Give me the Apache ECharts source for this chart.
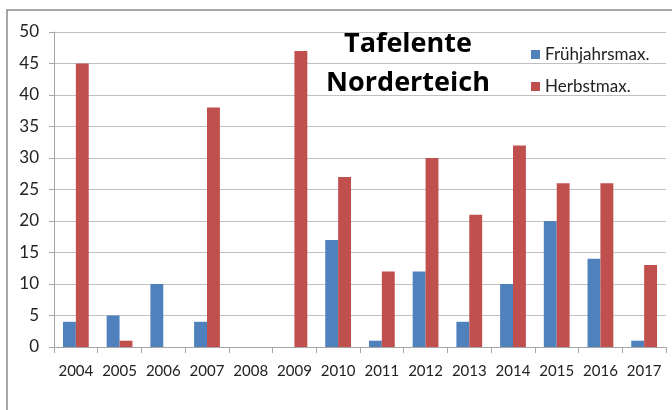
<!DOCTYPE html>
<html>
<head>
<meta charset="utf-8">
<script src="https://cdn.jsdelivr.net/npm/echarts@6/dist/echarts.min.js"></script>
<style>
  html, body { margin: 0; padding: 0; background: #fff; }
  #chart { width: 672px; height: 410px; }
</style>
</head>
<body>
<div id="chart"></div>
<script>
// Jahre und Maxima
const years = ["2004", "2005", "2006", "2007", "2008", "2009", "2010", "2011", "2012", "2013", "2014", "2015", "2016", "2017"];
const fruehjahr = [4, 5, 10, 4, 0, 0, 17, 1, 12, 4, 10, 20, 14, 1];
const herbst = [45, 1, 0, 38, 0, 47, 27, 12, 30, 21, 32, 26, 26, 13];

const font = "Lato, 'Open Sans', sans-serif";

const chart = echarts.init(document.getElementById("chart"));
chart.setOption({
  animation: false,
  textStyle: { fontFamily: font },
  graphic: [
    {
      // Rahmen
      type: "rect",
      shape: { x: 7, y: 10, width: 700, height: 500 },
      style: { fill: "none", stroke: "#8c8c8c", lineWidth: 1.5 },
      z: -1
    },
    {
      type: "text",
      x: 408, y: 25,
      style: {
        text: "Tafelente\nNorderteich",
        align: "center",
        verticalAlign: "top",
        fontFamily: "'Open Sans', Lato, sans-serif",
        fontWeight: "bold",
        fontSize: 27,
        lineHeight: 39,
        fill: "#000"
      },
      z: 10
    }
  ],
  legend: {
    orient: "vertical",
    left: 526,
    top: 41,
    itemWidth: 9,
    itemHeight: 9,
    itemGap: 15,
    icon: "rect",
    textStyle: { fontFamily: font, fontSize: 17, color: "#222" },
    data: ["Frühjahrsmax.", "Herbstmax."]
  },
  grid: { left: 54, right: 6, top: 32, bottom: 63 },
  xAxis: {
    type: "category",
    data: years,
    axisLine: { lineStyle: { color: "#a6a6a6", width: 1 } },
    axisTick: { show: true, length: 6, lineStyle: { color: "#a6a6a6" } },
    axisLabel: { color: "#222", fontSize: 15, margin: 17, interval: 0, fontFamily: font }
  },
  yAxis: {
    type: "value",
    min: 0,
    max: 50,
    interval: 5,
    axisLine: { show: true, lineStyle: { color: "#a6a6a6" } },
    axisTick: { show: true, length: 5, lineStyle: { color: "#a6a6a6" } },
    axisLabel: { color: "#222", fontSize: 17, margin: 15, fontFamily: font },
    splitLine: { lineStyle: { color: "#c0c0c0", width: 1 } }
  },
  series: [
    {
      name: "Frühjahrsmax.",
      type: "bar",
      data: fruehjahr,
      barGap: "0%",
      barCategoryGap: "41%",
      itemStyle: { color: "#4f81bd" }
    },
    {
      name: "Herbstmax.",
      type: "bar",
      data: herbst,
      itemStyle: { color: "#c0504d" }
    }
  ]
});
</script>
</body>
</html>
